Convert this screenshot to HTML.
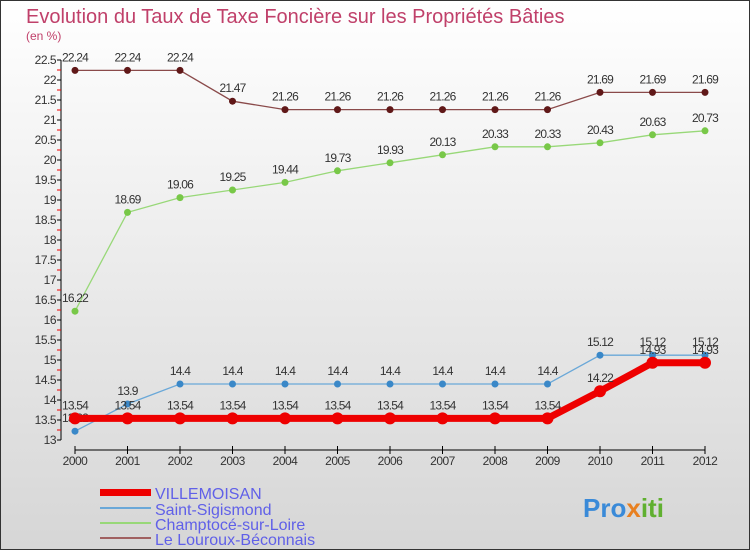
<!DOCTYPE html>
<html><head><meta charset="utf-8"><style>
body{margin:0}
svg text{font-family:"Liberation Sans",sans-serif}
</style></head><body>
<svg width="750" height="550" xmlns="http://www.w3.org/2000/svg">
<defs><linearGradient id="bg" x1="0" y1="0" x2="0" y2="1"><stop offset="0" stop-color="#ffffff"/><stop offset="1" stop-color="#d6d6d6"/></linearGradient></defs>
<rect x="0.5" y="0.5" width="749" height="549" fill="url(#bg)" stroke="#333"/>
<text x="26" y="23" font-size="20" fill="#c0406a">Evolution du Taux de Taxe Foncière sur les Propriétés Bâties</text>
<text x="26" y="40" font-size="12" fill="#c0406a">(en %)</text>
<g id="axes"></g><g id="series"></g>
<g>
<rect x="100" y="489" width="51" height="7" fill="#e00"/>
<text x="155" y="499" font-size="16" fill="#6060e8">VILLEMOISAN</text>
<line x1="100" y1="508" x2="151" y2="508" stroke="#6aa8d8" stroke-width="2"/>
<text x="155" y="515" font-size="16" fill="#6060e8">Saint-Sigismond</text>
<line x1="100" y1="523" x2="151" y2="523" stroke="#98d878" stroke-width="2"/>
<text x="155" y="530" font-size="16" fill="#6060e8">Champtocé-sur-Loire</text>
<line x1="100" y1="538" x2="151" y2="538" stroke="#a06060" stroke-width="2"/>
<text x="155" y="545" font-size="16" fill="#6060e8">Le Louroux-Béconnais</text>
</g>
<text x="583" y="517" font-size="26" font-weight="bold" fill="#3a8ad8">Pro<tspan fill="#e88020">x</tspan><tspan fill="#60b030">iti</tspan></text>
<script>
const years=["2000","2001","2002","2003","2004","2005","2006","2007","2008","2009","2010","2011","2012"];
const yTicks=[13,13.5,14,14.5,15,15.5,16,16.5,17,17.5,18,18.5,19,19.5,20,20.5,21,21.5,22,22.5];
const villemoisan=[13.54,13.54,13.54,13.54,13.54,13.54,13.54,13.54,13.54,13.54,14.22,14.93,14.93];
const saintSigismond=[13.22,13.9,14.4,14.4,14.4,14.4,14.4,14.4,14.4,14.4,15.12,15.12,15.12];
const champtoce=[16.22,18.69,19.06,19.25,19.44,19.73,19.93,20.13,20.33,20.33,20.43,20.63,20.73];
const louroux=[22.24,22.24,22.24,21.47,21.26,21.26,21.26,21.26,21.26,21.26,21.69,21.69,21.69];
const NS="http://www.w3.org/2000/svg";
const X=i=>75+i*52.5, Y=v=>440-(v-13)*40;
function mk(t,a,p){const e=document.createElementNS(NS,t);for(const k in a)e.setAttribute(k,a[k]);p.appendChild(e);return e;}
const ax=document.getElementById('axes');
const yl=mk('line',{x1:61,y1:Y(22.5),x2:61,y2:Y(13),stroke:'#000'},ax);


yTicks.forEach(v=>{
 mk('line',{x1:57,y1:Y(v),x2:61,y2:Y(v),stroke:'#000'},ax);
 if(v<22.5) mk('line',{x1:57,y1:Y(v+0.25),x2:61,y2:Y(v+0.25),stroke:'#e00'},ax);
 const t=mk('text',{x:56,y:Y(v)+4,'font-size':12,'text-anchor':'end',fill:'#333','letter-spacing':'-0.5'},ax);t.textContent=String(v);
 
 
});
const xl=mk('line',{x1:X(0),y1:450,x2:X(12),y2:450,stroke:'#000'},ax);


years.forEach((y,i)=>{
 mk('line',{x1:X(i),y1:446,x2:X(i),y2:454,stroke:'#000'},ax);
 const t=mk('text',{x:X(i),y:465,'font-size':12,'text-anchor':'middle',fill:'#333','letter-spacing':'-0.5'},ax);t.textContent=y;
 
 
});
const sg=document.getElementById('series');
function draw(vals,name,color,w,r,dot){
 const g=mk('g',{},sg);
 
 
 mk('polyline',{points:vals.map((v,i)=>X(i)+','+Y(v)).join(' '),fill:'none',stroke:color,'stroke-width':w},g);
 vals.forEach((v,i)=>{
  const c=mk('circle',{cx:X(i),cy:Y(v),r:r,fill:dot},g);
  
  
  const t=mk('text',{x:X(i),y:Y(v)-9,'font-size':12,'text-anchor':'middle',fill:'#333','letter-spacing':'-0.8'},g);t.textContent=String(v);
  
  
 });
}
draw(louroux,'louroux','#8a4a4a',1.3,3.5,'#601818');
draw(champtoce,'champtoce','#98d878',1.3,3.5,'#78c848');
draw(saintSigismond,'saint-sigismond','#6aa8d8',1.3,3.5,'#3a88c8');
draw(villemoisan,'villemoisan','#ee0000',7,6,'#ee0000');
</script>
</svg>
</body></html>
